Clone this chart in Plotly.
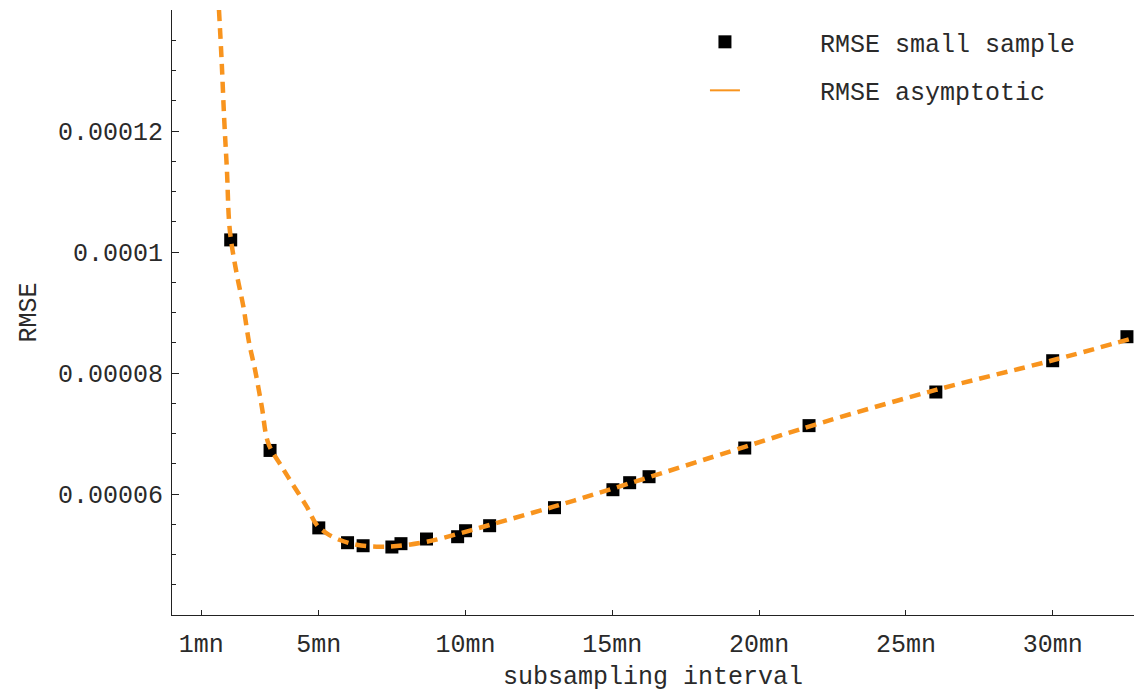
import plotly.graph_objects as go

# Small-sample RMSE (subsampling interval in minutes)
sample_x = [2.0, 3.34, 5.0, 5.98, 6.51, 7.49, 7.80, 8.67, 9.73, 10.0,
            10.82, 13.03, 15.02, 15.59, 16.25, 19.51, 21.7, 26.02, 30.0, 32.53]
sample_y = [0.0001020, 0.0000672, 0.0000544, 0.00005195, 0.00005145, 0.00005124,
            0.00005179, 0.00005256, 0.00005294, 0.00005393, 0.00005476, 0.00005774,
            0.00006071, 0.00006187, 0.00006286, 0.0000676, 0.0000713, 0.00007686,
            0.00008203, 0.0000860]

# Asymptotic RMSE curve
curve_x = [1.60, 1.69, 1.78, 1.87, 1.97, 2.20, 2.43, 2.63, 2.83, 3.06, 3.28, 3.74,
           4.02, 4.59, 4.93, 5.27, 5.72, 6.29, 6.97, 7.65, 8.67, 9.81, 10.83,
           13.0, 15.02, 19.51, 22.07, 26.02, 30.0, 32.77]
curve_y = [0.0001400, 0.0001317, 0.0001218, 0.0001136, 0.0001036, 0.0000965,
           0.0000910, 0.0000849, 0.0000805, 0.0000744, 0.0000684, 0.0000645,
           0.0000623, 0.0000579, 0.0000549, 0.0000535, 0.0000524, 0.0000516,
           0.0000513, 0.0000514, 0.0000521, 0.0000535, 0.0000549, 0.0000579,
           0.0000609, 0.0000678, 0.0000717, 0.0000772, 0.0000821, 0.0000858]

x_tickvals = [1, 5, 10, 15, 20, 25, 30]
x_ticktext = ["1mn", "5mn", "10mn", "15mn", "20mn", "25mn", "30mn"]
y_tickvals = [0.00006, 0.00008, 0.0001, 0.00012]
y_ticktext = ["0.00006", "0.00008", "0.0001", "0.00012"]

FONT = "Liberation Mono, Courier New, monospace"
TEXT = "#2a2a2a"
ORANGE = "#F8941E"
NB = "\u00a0" * 5

fig = go.Figure()
fig.add_trace(go.Scatter(
    x=sample_x, y=sample_y, mode="markers", name=NB + "RMSE small sample",
    marker=dict(symbol="square", size=13, color="black"),
    legendgroup="a"))
fig.add_trace(go.Scatter(
    x=curve_x, y=curve_y, mode="lines", showlegend=False,
    line=dict(color=ORANGE, width=4.5, dash="11px,7px", shape="spline", smoothing=1.0)))
fig.add_trace(go.Scatter(
    x=[None], y=[None], mode="lines", name=NB + "RMSE asymptotic",
    line=dict(color=ORANGE, width=2), legendgroup="b"))

fig.update_layout(
    width=1134, height=692,
    margin=dict(l=172, r=0, t=10, b=77),
    paper_bgcolor="white", plot_bgcolor="white",
    font=dict(family=FONT, size=25, color=TEXT),
    showlegend=True,
    legend=dict(x=0.554, y=0.985, xanchor="left", yanchor="top",
                bgcolor="rgba(0,0,0,0)", tracegroupgap=13,
                font=dict(family=FONT, size=25, color=TEXT)),
    xaxis=dict(range=[0, 32.77], tickvals=x_tickvals, ticktext=x_ticktext,
               ticks="inside", ticklen=5, tickcolor="#222", showgrid=False, zeroline=False,
               showline=True, linecolor="#222", linewidth=1, ticklabelstandoff=6,
               title=dict(text="subsampling interval", standoff=10,
                          font=dict(family=FONT, size=25, color=TEXT))),
    yaxis=dict(range=[0.00004, 0.00014], tickvals=y_tickvals, ticktext=y_ticktext,
               ticks="inside", ticklen=7, tickcolor="#222", showgrid=False, zeroline=False,
               showline=True, linecolor="#222", linewidth=1, ticklabelstandoff=3,
               minor=dict(tick0=0.00004, dtick=0.000005, ticks="inside", ticklen=4,
                          tickcolor="#222", showgrid=False),
               title=dict(text="RMSE", standoff=14, font=dict(family=FONT, size=25, color=TEXT))),
)

fig.write_html("out.html")
